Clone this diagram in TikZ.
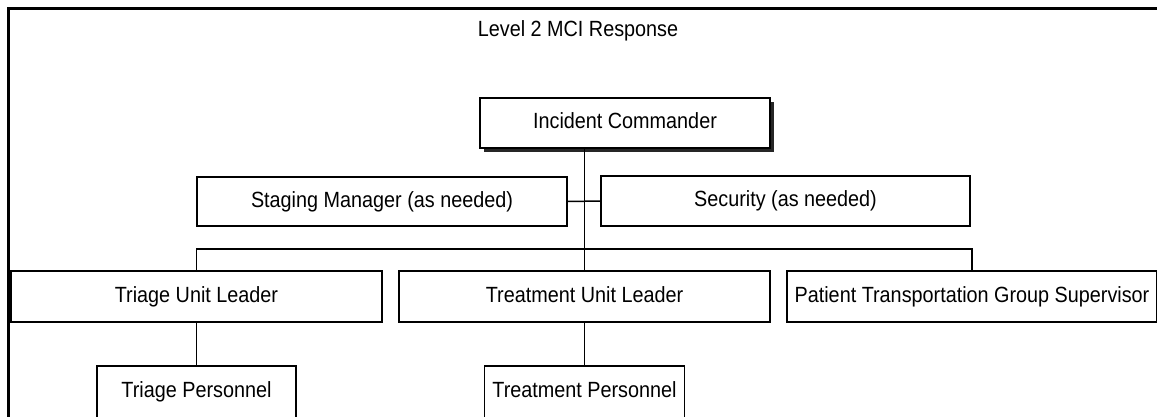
\documentclass[tikz,border=0pt]{standalone}
\usepackage{fontspec}
\setmainfont{Liberation Sans}[FakeStretch=0.9]
\usetikzlibrary{shadows}
\begin{document}
\begin{tikzpicture}[x=1pt,y=-1pt,
  font=\fontsize{22}{26}\selectfont,
  box/.style={draw, line width=1.5pt, fill=white, inner sep=0pt,
              text height=15.8pt, text depth=4.6pt, minimum height=50pt},
  link/.style={line width=1.5pt}]
  \useasboundingbox (0,0) rectangle (1157,417);
  \clip (0,0) rectangle (1157,417);
  % outer frame (runs past the page on the right and bottom)
  \draw[line width=3pt] (8,9) rectangle (1175,440);
  \node[text height=15.8pt, text depth=4.6pt] (title) at (578,31) {Level 2 MCI Response};

  % command level
  \node[box, line width=2pt, minimum width=290pt,
        drop shadow={shadow xshift=4pt, shadow yshift=-4pt, fill=black, opacity=0.85}]
        (ic) at (625,123) {Incident Commander};
  \node[box, minimum width=370pt, minimum height=49pt] (stg) at (382,201.5) {Staging Manager (as needed)};
  \node[box, minimum width=369pt] (sec) at (785.5,201) {Security (as needed)};

  % unit leaders
  \node[box, minimum width=371pt, minimum height=51pt] (tul) at (196.5,296.5) {Triage Unit Leader};
  \node[box, minimum width=371pt, minimum height=51pt] (trl) at (584.5,296.5) {Treatment Unit Leader};
  \node[box, minimum width=370pt, minimum height=51pt] (ptg) at (972,296.5) {Patient Transportation Group Supervisor};

  % personnel
  \node[box, minimum width=199pt, minimum height=52pt] (tp) at (196.5,392) {Triage Personnel};
  \node[box, minimum width=200pt, minimum height=52pt] (trp) at (584.5,392) {Treatment Personnel};

  % connectors
  \coordinate (spine) at (584.5,249);
  \draw[link] (ic.south -| spine) -- (spine);
  \draw[link] (stg.east) -- (sec.west);
  \draw[link] (tul.north) -- (tul.north |- spine) -- (ptg.north |- spine) -- (ptg.north);
  \draw[link] (trl.north) -- (trl.north |- spine);
  \draw[link] (tul.south) -- (tp.north);
  \draw[link] (trl.south) -- (trp.north);
\end{tikzpicture}
\end{document}
